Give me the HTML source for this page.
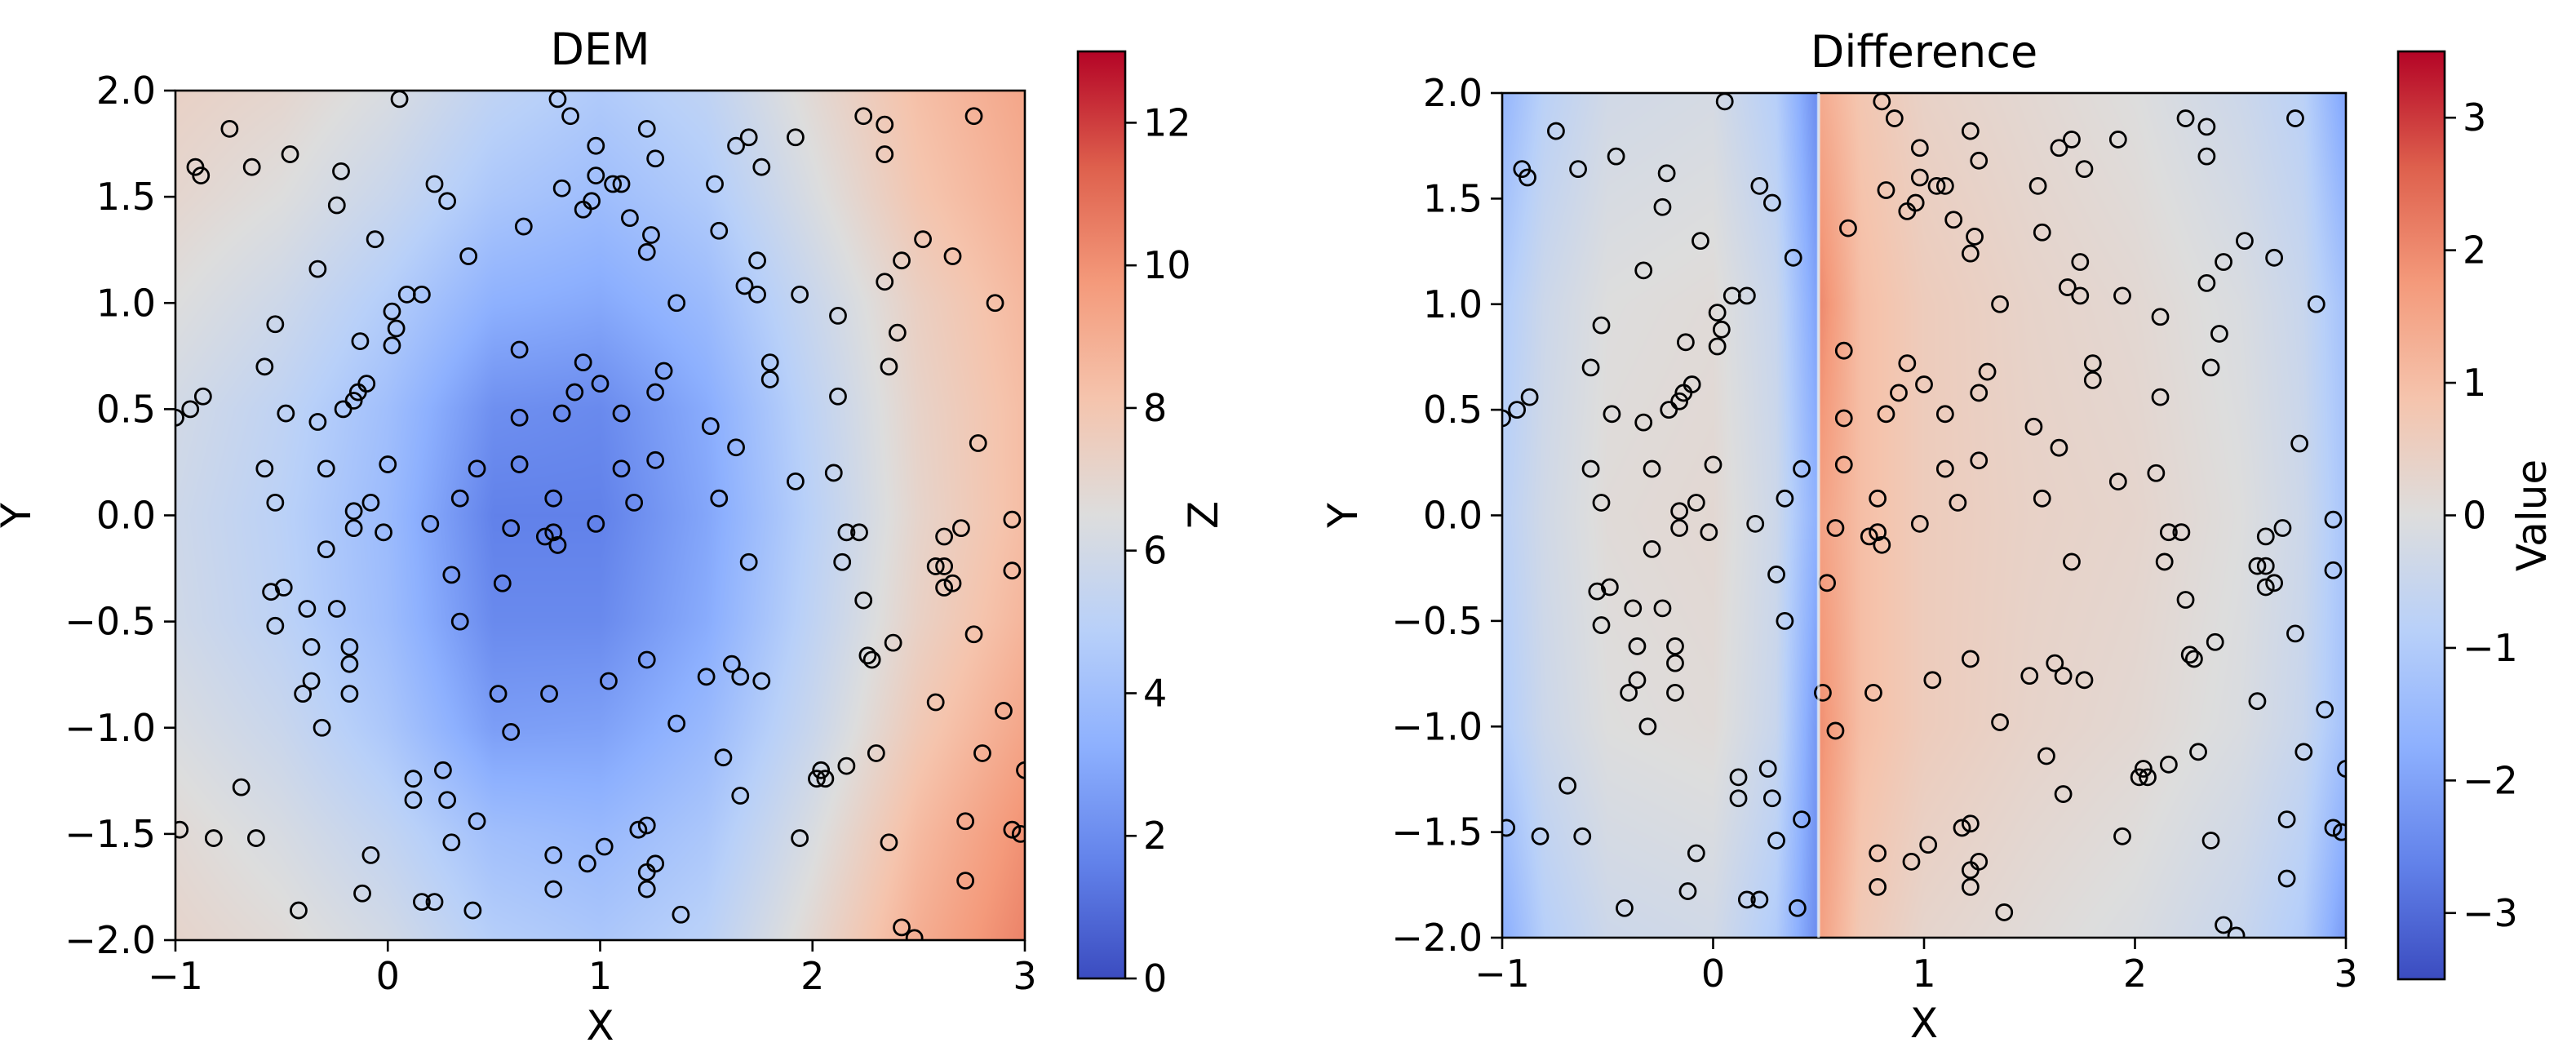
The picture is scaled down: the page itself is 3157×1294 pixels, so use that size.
<!DOCTYPE html>
<html><head><meta charset="utf-8"><style>
body{margin:0;background:#fff;width:3157px;height:1294px;overflow:hidden;position:relative;font-family:"DejaVu Sans","Liberation Sans",sans-serif}
canvas{position:absolute}
svg{position:absolute;left:0;top:0}
</style></head><body>
<canvas id="c1" style="left:215px;top:111px" width="1041" height="1041"></canvas>
<canvas id="c2" style="left:1841px;top:114px" width="1034" height="1035"></canvas>
<svg id="s" width="3157" height="1294"></svg>
<script>
// scatter point data (shared by both panels)
const ptsX=[0.055,-0.745,-0.906,-0.88,-0.64,-0.46,-0.22,-0.24,-0.06,-0.33,0.22,0.28,0.38,0.09,0.16,0.02,0.04,0.02,-0.13,-0.53,-0.58,-0.87,-0.93,-1.0,-0.48,-0.33,-0.21,-0.16,-0.14,-0.10,-0.58,-0.29,0.0,0.42,-0.53,-0.16,-0.08,-0.16,-0.02,0.20,0.34,-0.29,-0.55,-0.49,-0.38,-0.24,-0.53,-0.36,-0.18,-0.18,-0.36,-0.40,-0.18,-0.31,0.30,0.34,0.54,0.58,0.74,0.78,0.80,0.78,0.62,0.62,0.82,0.88,0.92,1.0,0.62,1.1,1.1,1.16,0.98,1.26,1.26,1.30,1.36,0.64,0.82,0.92,0.96,0.98,0.98,1.06,1.10,1.14,1.24,1.22,1.22,1.26,0.80,0.86,1.64,1.70,1.76,1.92,1.54,1.56,1.74,1.68,1.74,1.94,2.12,2.24,2.34,2.34,2.52,2.42,2.34,2.66,2.76,2.86,2.40,2.36,2.12,1.80,1.80,1.52,1.64,1.92,2.10,1.56,2.78,2.16,2.22,2.14,1.70,2.70,2.62,2.58,2.62,2.62,2.66,2.94,2.94,2.24,2.76,2.38,2.26,2.28,1.22,1.62,1.66,1.50,1.76,1.04,0.52,0.76,0.58,1.36,2.58,2.90,1.58,2.30,2.80,2.16,2.04,2.02,2.06,1.66,3.0,0.26,0.12,0.12,0.28,-0.69,0.42,0.30,-0.08,-0.12,0.16,0.22,0.40,-0.42,-0.82,-0.62,-0.98,0.78,0.78,0.94,1.02,1.18,1.22,1.22,1.26,1.22,1.38,1.94,2.36,2.72,2.94,2.98,2.72,2.42,2.48];
const ptsY=[1.96,1.82,1.64,1.60,1.64,1.70,1.62,1.46,1.30,1.16,1.56,1.48,1.22,1.04,1.04,0.96,0.88,0.80,0.82,0.90,0.70,0.56,0.50,0.46,0.48,0.44,0.50,0.54,0.58,0.62,0.22,0.22,0.24,0.22,0.06,0.02,0.06,-0.06,-0.08,-0.04,0.08,-0.16,-0.36,-0.34,-0.44,-0.44,-0.52,-0.62,-0.62,-0.70,-0.78,-0.84,-0.84,-1.0,-0.28,-0.50,-0.32,-0.06,-0.10,-0.08,-0.14,0.08,0.24,0.46,0.48,0.58,0.72,0.62,0.78,0.48,0.22,0.06,-0.04,0.26,0.58,0.68,1.0,1.36,1.54,1.44,1.48,1.60,1.74,1.56,1.56,1.40,1.32,1.24,1.82,1.68,1.96,1.88,1.74,1.78,1.64,1.78,1.56,1.34,1.20,1.08,1.04,1.04,0.94,1.88,1.84,1.70,1.30,1.20,1.10,1.22,1.88,1.0,0.86,0.70,0.56,0.72,0.64,0.42,0.32,0.16,0.20,0.08,0.34,-0.08,-0.08,-0.22,-0.22,-0.06,-0.10,-0.24,-0.24,-0.34,-0.32,-0.02,-0.26,-0.40,-0.56,-0.60,-0.66,-0.68,-0.68,-0.70,-0.76,-0.76,-0.78,-0.78,-0.84,-0.84,-1.02,-0.98,-0.88,-0.92,-1.14,-1.12,-1.12,-1.18,-1.20,-1.24,-1.24,-1.32,-1.20,-1.20,-1.24,-1.34,-1.34,-1.28,-1.44,-1.54,-1.60,-1.78,-1.82,-1.82,-1.86,-1.86,-1.52,-1.52,-1.48,-1.60,-1.76,-1.64,-1.56,-1.48,-1.46,-1.68,-1.64,-1.76,-1.88,-1.52,-1.54,-1.44,-1.48,-1.50,-1.72,-1.94,-1.99];
// DEM sampled grid
const demXs=[-1,-0.5,0,0.5,1,1.5,2,2.5,3];
const demYs=[2,1.5,1,0.5,0,-0.5,-1,-1.5,-2];
const demZ=[
[7.3,7.0,6.3,5.2,4.6,5.2,6.8,8.3,9.3],
[7.0,6.5,5.6,4.4,3.9,4.6,6.3,8.0,9.0],
[6.5,5.8,4.7,3.3,3.0,3.8,5.6,7.4,8.6],
[6.0,5.2,4.0,2.1,1.9,3.1,5.2,7.2,8.4],
[5.8,5.0,3.8,1.6,1.6,2.9,5.0,7.1,8.4],
[5.9,5.1,3.9,1.9,1.9,3.1,5.2,7.3,8.7],
[6.3,5.6,4.4,2.6,2.7,3.7,5.6,7.8,9.3],
[6.8,6.2,5.3,4.0,3.7,4.4,6.3,8.5,10.0],
[7.1,6.7,6.0,4.8,4.4,5.0,6.9,9.0,10.4]];
// Difference sampled grid
const diffXs=[-1,-0.8,-0.5,0,0.3,0.49,0.51,0.7,1,1.5,2,2.5,2.8,3];
const diffYs=[2,1,0,-1,-2];
const diffZ=[
[-1.6,-0.8,-0.3,-0.2,-0.9,-2.4,1.4,0.8,0.4,0.2,0.0,-0.4,-0.8,-2.0],
[-1.0,-0.4,0.0,0.1,-0.5,-2.0,2.0,1.0,0.6,0.35,0.2,-0.1,-0.5,-1.3],
[-0.8,-0.3,0.1,0.2,-0.4,-1.7,1.6,1.0,0.6,0.4,0.3,0.0,-0.4,-1.2],
[-1.0,-0.4,0.0,0.1,-0.5,-2.2,1.9,1.0,0.6,0.35,0.2,-0.1,-0.5,-1.3],
[-1.8,-0.9,-0.4,-0.3,-1.0,-2.4,1.6,0.7,0.3,0.1,-0.1,-0.5,-1.0,-2.2]];
const xTicks=[-1,0,1,2,3];
const yTicks=[2.0,1.5,1.0,0.5,0.0,-0.5,-1.0,-1.5,-2.0];
const demCbTicks=[0,2,4,6,8,10,12];
const diffCbTicks=[-3,-2,-1,0,1,2,3];

const CW=[[59,76,192],[98,130,234],[141,176,254],[184,208,249],[221,221,221],[245,196,173],[244,154,123],[222,96,77],[180,4,38]];
function cmap(t){t=Math.max(0,Math.min(1,t));const f=t*8,i=Math.min(7,Math.floor(f)),u=f-i;return CW[i].map((c,k)=>c+(CW[i+1][k]-c)*u);}
function idx(arr,v){let i=0;while(i<arr.length-2&&((arr[1]>arr[0])?v>arr[i+1]:v<arr[i+1]))i++;const t=(v-arr[i])/(arr[i+1]-arr[i]);return [i,Math.max(0,Math.min(1,t))];}
function sm(t){return t*t*(3-2*t);}
function interp(xs,ys,Z,x,y){let [i,u]=idx(xs,x),[j,v]=idx(ys,y);const a=Z[j][i],b=Z[j][i+1],c=Z[j+1][i],d=Z[j+1][i+1];return (a*(1-u)+b*u)*(1-v)+(c*(1-u)+d*u)*v;}
function paint(id,xs,ys,Z,vmin,vmax){const cv=document.getElementById(id),W=cv.width,H=cv.height,ctx=cv.getContext('2d'),im=ctx.createImageData(W,H);
for(let py=0;py<H;py++){const y=2-4*(py+0.5)/H;for(let px=0;px<W;px++){const x=-1+4*(px+0.5)/W;const c=cmap((interp(xs,ys,Z,x,y)-vmin)/(vmax-vmin));const o=(py*W+px)*4;im.data[o]=c[0];im.data[o+1]=c[1];im.data[o+2]=c[2];im.data[o+3]=255;}}
ctx.putImageData(im,0,0);}
paint('c1',demXs,demYs,demZ,0,13);
paint('c2',diffXs,diffYs,diffZ,-3.5,3.5);

const NS='http://www.w3.org/2000/svg',S=document.getElementById('s');
function el(t,a,p){const e=document.createElementNS(NS,t);for(const k in a)e.setAttribute(k,a[k]);(p||S).appendChild(e);return e;}
const defs=el('defs',{});
const gr=el('linearGradient',{id:'cw',x1:0,y1:1,x2:0,y2:0},defs);
CW.forEach((c,i)=>el('stop',{offset:i/8,'stop-color':`rgb(${c})`},gr));
function fmt(v){return (v<0?'\u2212':'')+Math.abs(v).toFixed(1);}
function panel(pfx,L,T,W,H,cbL,cbT,cbW,cbB,vmin,vmax,cbTicks,title,cbLabel,cbLabelX){
  const g=el('g',{});
  
  
  const sx=x=>L+(x+1)/4*W, sy=y=>T+(2-y)/4*H;
  const cp=el('clipPath',{id:pfx+'clip'},defs);el('rect',{x:L,y:T,width:W,height:H},cp);
  const pg=el('g',{'clip-path':`url(#${pfx}clip)`},g);
  for(let i=0;i<ptsX.length;i++){const c=el('circle',{cx:sx(ptsX[i]),cy:sy(ptsY[i]),r:9.5,fill:'none',stroke:'#000','stroke-width':2.8},pg);
    
    }
  const fr=el('rect',{x:L,y:T,width:W,height:H,fill:'none',stroke:'#000','stroke-width':2.6},g);
  
  
  xTicks.forEach(v=>{const x=sx(v);el('line',{x1:x,y1:T+H,x2:x,y2:T+H+14,stroke:'#000','stroke-width':2.6},g);
    const t=el('text',{x:x,y:T+H+60,'font-size':46,'text-anchor':'middle'},g);t.textContent=(v<0?'\u2212':'')+Math.abs(v);
    
    });
  yTicks.forEach(v=>{const y=sy(v);el('line',{x1:L-14,y1:y,x2:L,y2:y,stroke:'#000','stroke-width':2.6},g);
    const t=el('text',{x:L-24,y:y+16,'font-size':46,'text-anchor':'end'},g);t.textContent=fmt(v);
    
    });
  let t=el('text',{x:L+W/2,y:T-32,'font-size':54,'text-anchor':'middle'},g);t.textContent=title;
  
  
  t=el('text',{x:L+W/2,y:T+H+122,'font-size':50,'text-anchor':'middle'},g);t.textContent='X';
  
  
  t=el('text',{x:0,y:0,'font-size':50,'text-anchor':'middle',transform:`translate(${L-178},${T+H/2}) rotate(-90)`},g);t.textContent='Y';
  
  
  const cb=el('rect',{x:cbL,y:cbT,width:cbW,height:cbB-cbT,fill:'url(#cw)',stroke:'#000','stroke-width':2.6},g);
  
  
  const cy=v=>cbB-(v-vmin)/(vmax-vmin)*(cbB-cbT);
  cbTicks.forEach(v=>{const y=cy(v);el('line',{x1:cbL+cbW,y1:y,x2:cbL+cbW+14,y2:y,stroke:'#000','stroke-width':2.6},g);
    const tt=el('text',{x:cbL+cbW+22,y:y+16,'font-size':46},g);tt.textContent=(v<0?'\u2212':'')+Math.abs(v);
    
    });
  t=el('text',{x:0,y:0,'font-size':50,'text-anchor':'middle',transform:`translate(${cbLabelX},${(cbT+cbB)/2}) rotate(-90)`},g);t.textContent=cbLabel;
  
  
}
panel('dem',215,111,1041,1041,1321,63,58,1199,0,13,demCbTicks,'DEM','Z',1492);
panel('diff',1841,114,1034,1035,2939,63,57,1200,-3.5,3.5,diffCbTicks,'Difference','Value',3120);
// discontinuity line at x=0.5
const dl=el('line',{x1:1841+1.5/4*1034,y1:114,x2:1841+1.5/4*1034,y2:1149,stroke:'#dde4f0','stroke-width':3,opacity:0.8});


</script>
</body></html>
